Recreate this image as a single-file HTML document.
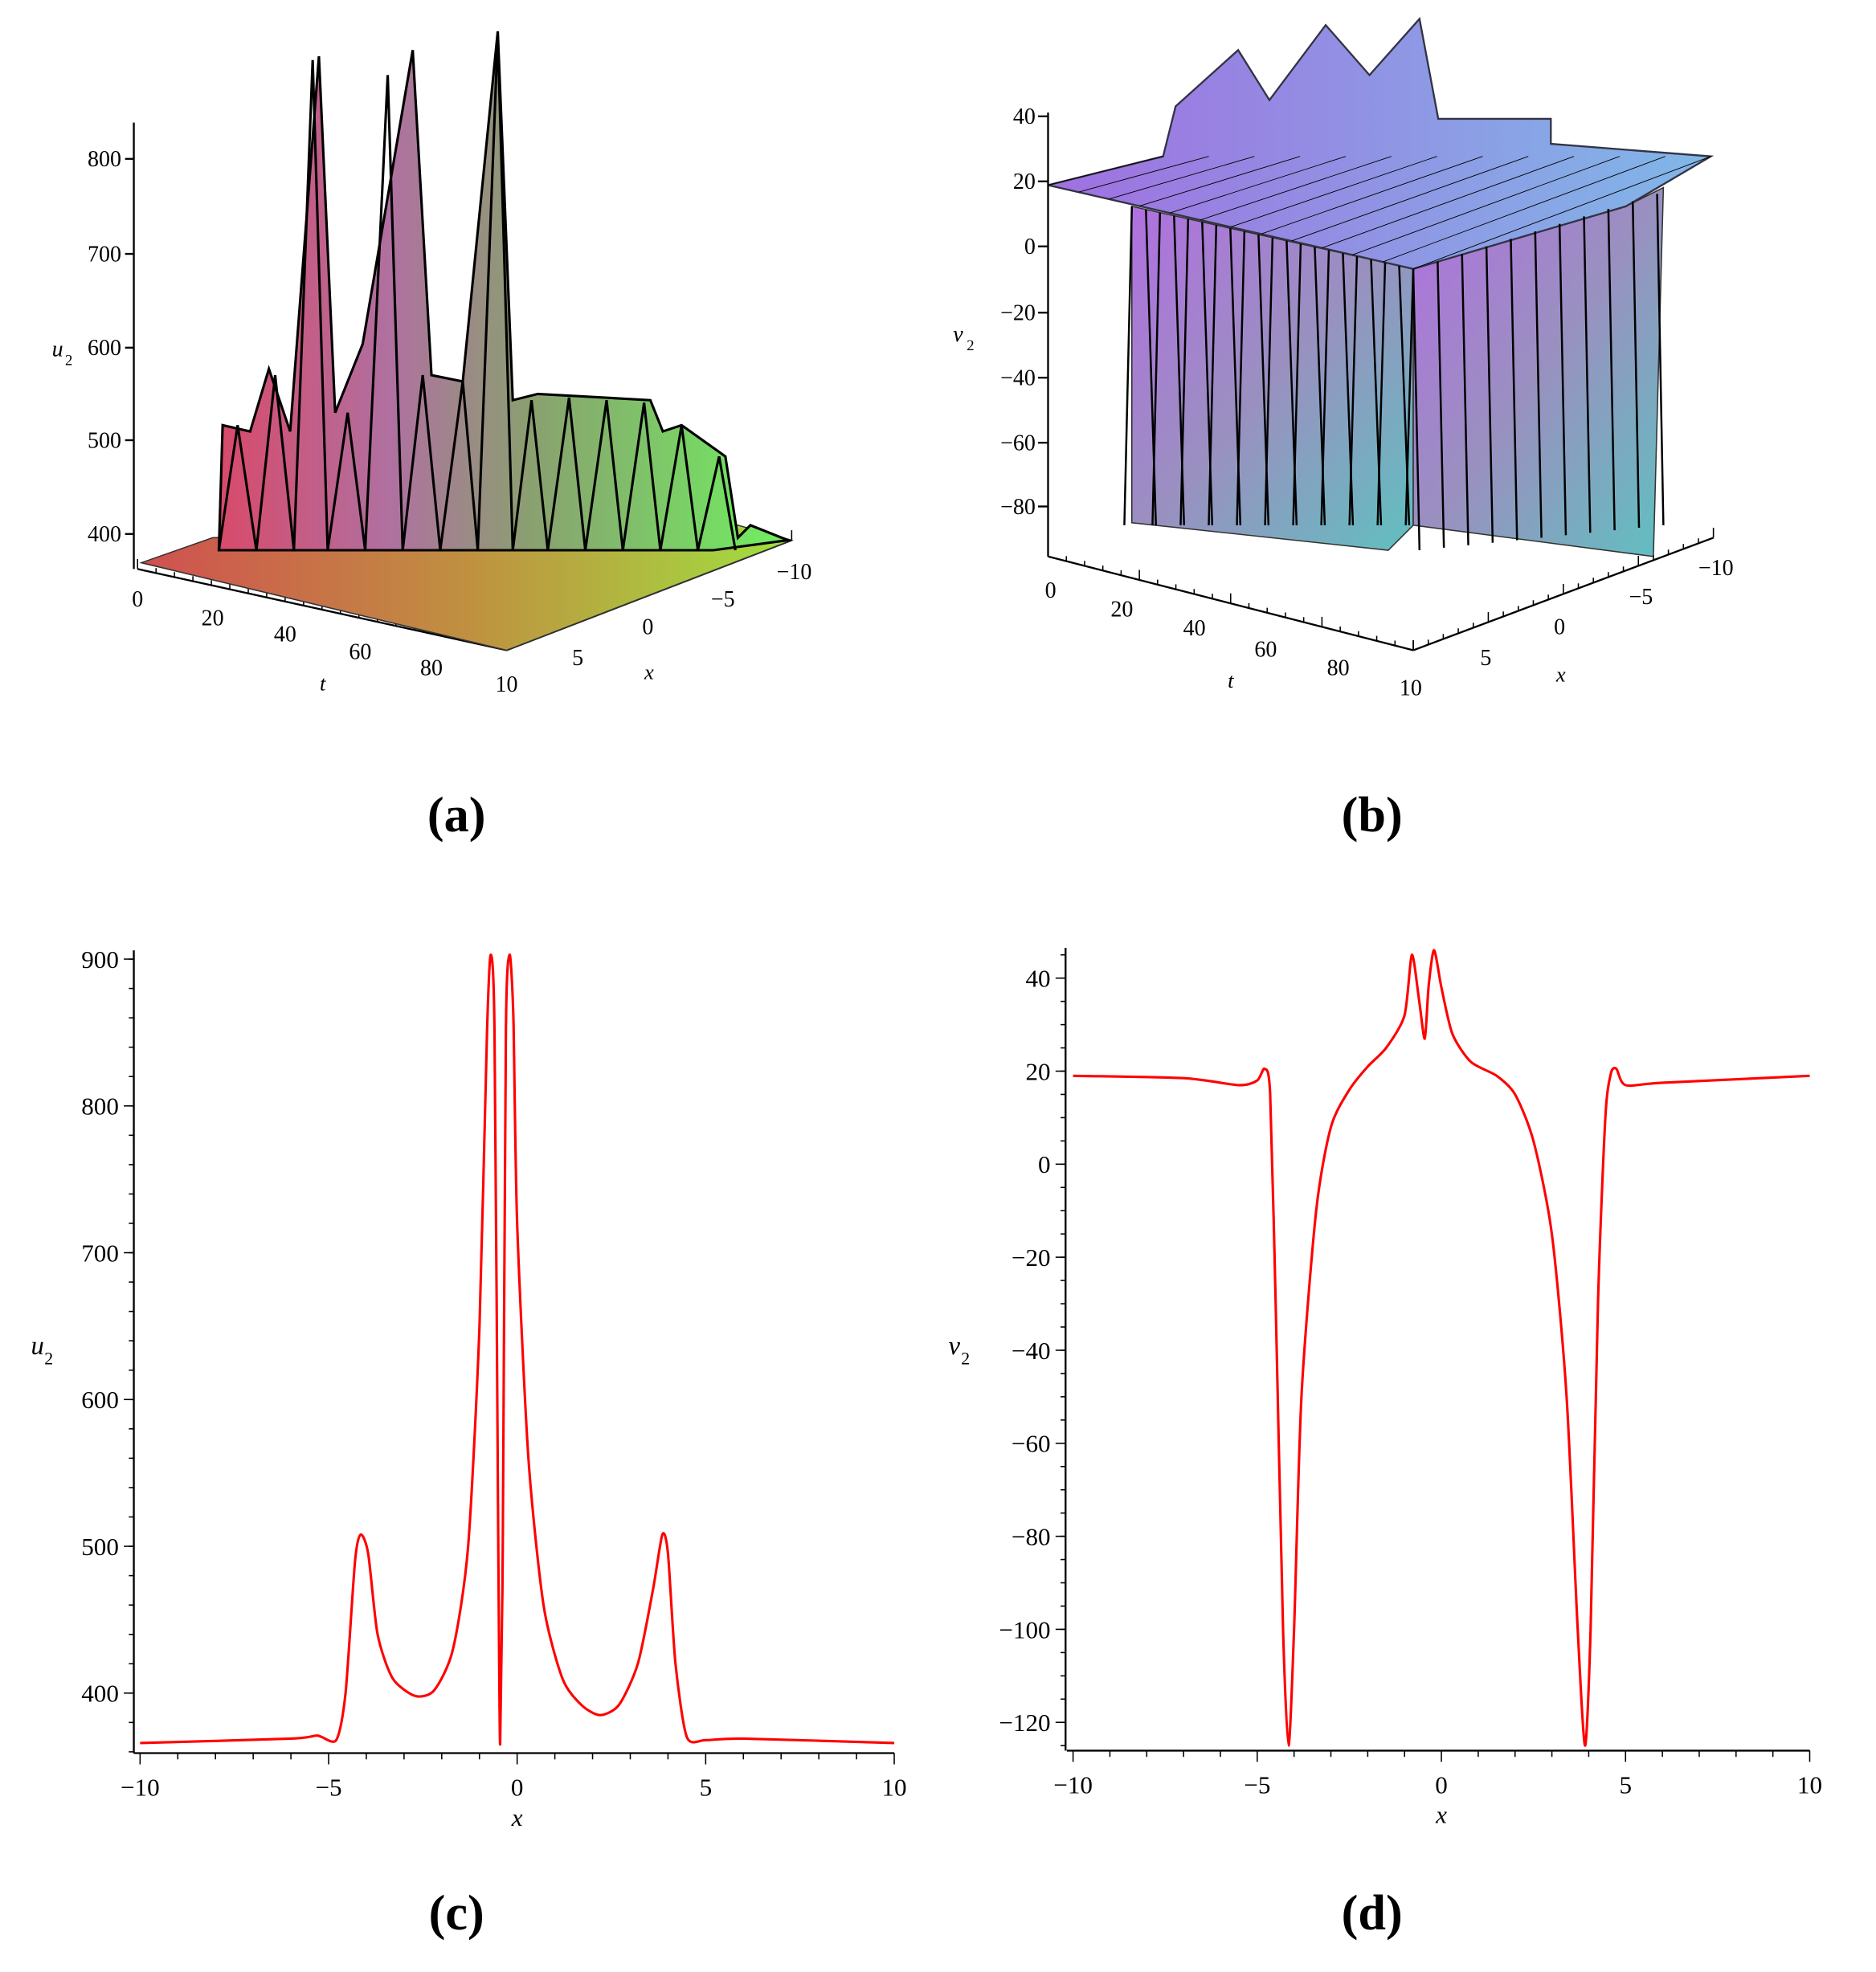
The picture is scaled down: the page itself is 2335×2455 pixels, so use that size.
<!DOCTYPE html>
<html><head><meta charset="utf-8">
<style>html,body{margin:0;padding:0;background:#fff}svg{display:block}
text{font-family:"Liberation Serif",serif;fill:#000}</style></head>
<body>
<svg id="s" width="2335" height="2455" viewBox="0 0 1500 1577" xmlns="http://www.w3.org/2000/svg">
<defs>
<linearGradient id="ga" x1="0" y1="0" x2="1" y2="0">
<stop offset="0" stop-color="#d84a6a"/><stop offset="0.3" stop-color="#b070a0"/><stop offset="0.55" stop-color="#8aa070"/><stop offset="1" stop-color="#70f060"/></linearGradient>
<linearGradient id="gf" x1="0" y1="0" x2="1" y2="0">
<stop offset="0" stop-color="#d05050"/><stop offset="0.5" stop-color="#c09040"/><stop offset="1" stop-color="#a0e040"/></linearGradient>
<linearGradient id="gb" x1="0" y1="0" x2="1" y2="1">
<stop offset="0" stop-color="#b070e0"/><stop offset="0.5" stop-color="#9a90c0"/><stop offset="1" stop-color="#60c0c0"/></linearGradient>
<linearGradient id="gt" x1="0" y1="0" x2="1" y2="0">
<stop offset="0" stop-color="#a070e0"/><stop offset="1" stop-color="#80b8e8"/></linearGradient>
</defs>
<g id="g"></g>
<polygon points="113,450 405,520 633,432 590,420 170,430" fill="url(#gf)" stroke="#333" stroke-width="1"/>
<polygon points="175,440 178,340 200,345 215,295 232,345 255,45 268,330 290,275 330,40 345,300 370,305 398,25 410,320 430,315 520,320 530,345 545,340 580,365 590,430 600,420 630,432 570,440" fill="url(#ga)" stroke="#000" stroke-width="2"/>
<polyline points="175,440 190,340 205,440 220,300 235,440 250,48 262,440 278,330 292,440 310,60 322,440 338,300 352,440 370,305 382,440 398,28 410,440 425,320 438,440 455,318 468,440 485,320 498,440 515,322 528,440 545,340 558,440 575,365 588,440" fill="none" stroke="#000" stroke-width="2"/>
<line x1="107" y1="98" x2="107" y2="455" stroke="#000" stroke-width="1.5"/>
<polygon points="905,165 1130,215 1130,420 1110,440 905,418" fill="url(#gb)" stroke="#333"/>
<polygon points="1130,215 1300,165 1330,150 1322,445 1130,420" fill="url(#gb)" stroke="#333"/>
<polygon points="838,148 930,125 940,85 990,40 1015,80 1060,20 1095,60 1135,15 1150,95 1240,95 1240,115 1368,125 1300,165 1130,215" fill="url(#gt)" stroke="#334" stroke-width="1.5"/>
<line x1="838" y1="90" x2="838" y2="445" stroke="#000" stroke-width="1.5"/>
<g id="g3"></g>
</svg>
<script>
var NS="http://www.w3.org/2000/svg",G=document.getElementById('g'),G3=document.getElementById('g3');
function el(p,t,a,txt){var e=document.createElementNS(NS,t);for(var k in a)e.setAttribute(k,a[k]);if(txt!=null)e.textContent=txt;p.appendChild(e);return e}
function line(p,x1,y1,x2,y2,w){el(p,'line',{x1:x1,y1:y1,x2:x2,y2:y2,stroke:'#000','stroke-width':w||1.5})}
function txt(p,x,y,s,fs,anc,it){el(p,'text',{x:x,y:y,'font-size':fs,'text-anchor':anc||'middle','font-style':it?'italic':'normal'},s)}
function mn(s){return String(s).replace('-','\u2212')}
for(var i=0;i<=20;i++){var f=i/20;line(G3,905+225*f,165+50*f,905+225*f+(i%2?8:-6),420,1.6);}
for(var i=0;i<=10;i++){var f=i/10;line(G3,1130+195*f,215-60*f,1135+195*f,440-20*f,1.6);}
for(var i=0;i<=12;i++){var f=i/12;line(G3,838+292*f,148+67*f,930+438*f,125,0.6);}
for(var i=0;i<=20;i++){var f=i/20;line(G,113+292*f,450+70*f,170+420*f,430-10*f,0.5);line(G,113+477*f,450-20*f,405+228*f,520-88*f,0.5);}
function axis3(p,x0,y0,x1,y1,n){line(p,x0,y0,x1,y1,1.5);for(var i=0;i<=n;i++){var f=i/n;var x=x0+(x1-x0)*f,y=y0+(y1-y0)*f;line(p,x,y,x,y-(i%5?4:8),1)}}
axis3(G,110,455,405,520,20);axis3(G,405,520,633,432,20);
axis3(G3,838,445,1130,520,20);axis3(G3,1130,520,1370,430,20);
[["0",110,485],["20",170,500],["40",228,513],["60",288,527],["80",345,540],["10",405,553]].forEach(a=>txt(G,a[1],a[2],a[0],18));
[["5",462,532],["0",518,507],["-5",578,485],["-10",635,463]].forEach(a=>txt(G,a[1],a[2],mn(a[0]),18));
txt(G,258,552,"t",17,'middle',1);txt(G,519,543,"x",17,'middle',1);
[["800",127],["700",203],["600",278],["500",352],["400",427]].forEach(a=>{txt(G,97,a[1]+6,a[0],18,'end');line(G,100,a[1],107,a[1])});
txt(G,46,285,"u",18,'middle',1);txt(G,55,292,"2",12);
[["0",840,478],["20",897,493],["40",955,508],["60",1012,525],["80",1070,540],["10",1128,556]].forEach(a=>txt(G3,a[1],a[2],a[0],18));
[["5",1188,532],["0",1247,507],["-5",1312,483],["-10",1372,460]].forEach(a=>txt(G3,a[1],a[2],mn(a[0]),18));
txt(G3,984,550,"t",17,'middle',1);txt(G3,1248,545,"x",17,'middle',1);
[["40",93],["20",145],["0",197],["-20",250],["-40",302],["-60",354],["-80",405]].forEach(a=>{txt(G3,828,a[1]+6,mn(a[0]),18,'end');line(G3,830,a[1],838,a[1])});
txt(G3,766,273,"v",18,'middle',1);txt(G3,776,280,"2",12);
[["(a)",365,665],["(b)",1097,665],["(c)",365,1543],["(d)",1097,1543]].forEach(a=>el(G,'text',{x:a[1],y:a[2],'font-size':40,'font-weight':'bold','text-anchor':'middle'},a[0]));
function smooth(P){var d='M'+P[0][0].toFixed(1)+','+P[0][1].toFixed(1);for(var i=0;i<P.length-1;i++){var p0=P[Math.max(0,i-1)],p1=P[i],p2=P[i+1],p3=P[Math.min(P.length-1,i+2)],k=1/8;
d+=' C'+(p1[0]+(p2[0]-p0[0])*k).toFixed(1)+','+(p1[1]+(p2[1]-p0[1])*k).toFixed(1)+' '+(p2[0]-(p3[0]-p1[0])*k).toFixed(1)+','+(p2[1]-(p3[1]-p1[1])*k).toFixed(1)+' '+p2[0].toFixed(1)+','+p2[1].toFixed(1)}return d}
function plot(x0,x1,yax,ybot,ytop,yfn,ticks,yt,pts,lab){
 line(G,x0-5,ybot,x1,ybot);line(G,yax,ytop,yax,ybot);
 var sx=(x1-x0)/20,cx=x0+10*sx;
 for(var v=-10;v<=10;v++){var x=cx+v*sx;line(G,x,ybot,x,ybot+(v%5?5:9),1)}
 [-10,-5,0,5,10].forEach(v=>txt(G,cx+v*sx,ybot+34,mn(v),20));
 txt(G,cx,ybot+58,"x",20,'middle',1);
 yt.forEach(v=>{var y=yfn(v);line(G,yax-8,y,yax,y,1);txt(G,yax-12,y+7,mn(v),20,'end')});
 ticks.forEach(v=>{var y=yfn(v);line(G,yax-4,y,yax,y,1)});
 el(G,'path',{d:smooth(pts.map(p=>[cx+p[0]*sx,yfn(p[1])])),fill:'none',stroke:'#f00','stroke-width':2,'stroke-linejoin':'round'});
 txt(G,lab[0],lab[1],lab[2],21,'middle',1);txt(G,lab[0]+9,lab[1]+8,"2",14);
}
var pc=[[-10,366],[-6,369],[-5.3,371],[-4.8,368],[-4.55,400],[-4.3,490],[-4.15,508],[-3.95,495],[-3.7,440],[-3.3,410],[-2.7,398],[-2.2,402],[-1.7,430],[-1.3,500],[-1.0,650],[-0.8,850],[-0.7,903],[-0.6,850],[-0.5,500],[-0.45,365],[-0.38,500],[-0.3,850],[-0.2,903],[-0.1,860],[0,720],[0.3,560],[0.7,460],[1.2,410],[1.7,392],[2.2,385],[2.7,392],[3.2,420],[3.6,470],[3.85,508],[4.0,495],[4.2,420],[4.5,370],[5,368],[6,369],[10,366]];
var tc=[];for(var v=360;v<=900;v+=20)tc.push(v);
plot(112,715,107,1402,760,v=>1354-(v-400)*1.174,tc,[900,800,700,600,500,400],pc,[30,1083,"u"]);
var pd=[[-10,19],[-7,18.5],[-5.5,17],[-5,18],[-4.8,20.5],[-4.65,15],[-4.5,-30],[-4.3,-100],[-4.15,-125],[-4.0,-100],[-3.8,-50],[-3.4,-10],[-3,8],[-2.5,16],[-2,21],[-1.5,25],[-1,32],[-0.8,45],[-0.6,35],[-0.45,27],[-0.35,38],[-0.2,46],[0,38],[0.3,28],[0.8,22],[1.5,19],[2,15],[2.5,5],[3,-15],[3.4,-50],[3.7,-100],[3.9,-125],[4.05,-100],[4.25,-30],[4.45,10],[4.6,19.5],[4.75,20.5],[5,17],[6,17.5],[10,19]];
var td=[];for(var v=-125;v<=45;v+=5)td.push(v);
plot(858,1447,852,1400,758,v=>931-v*3.72,td,[40,20,0,-20,-40,-60,-80,-100,-120],pd,[763,1083,"v"]);
</script>
</body></html>
